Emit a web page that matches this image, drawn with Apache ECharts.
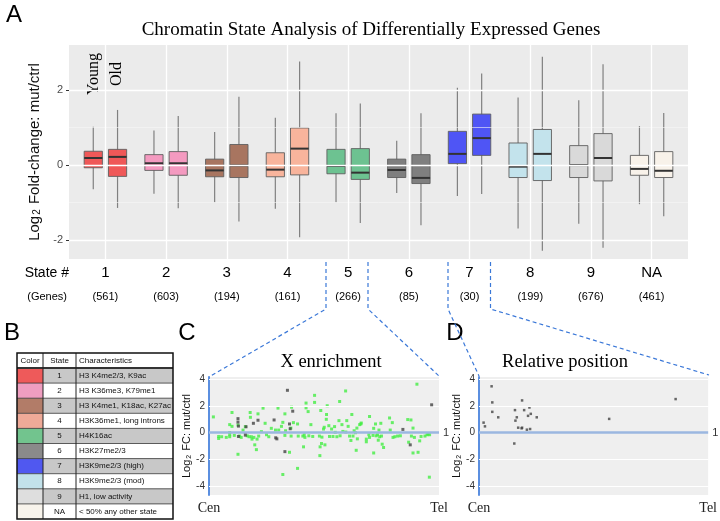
<!DOCTYPE html>
<html><head><meta charset="utf-8">
<script src="https://cdn.jsdelivr.net/npm/echarts@6/dist/echarts.min.js"></script>
<style>html,body{margin:0;padding:0;background:#fff}#c{width:720px;height:521px}</style>
</head><body><div id="c"></div>
<script>
// ---------- Panel A data ----------
const states = ['1','2','3','4','5','6','7','8','9','NA'];
const genes = [561,603,194,161,266,85,30,199,676,461];
// [min, q1, median, q3, max]
const youngBox = [
  [-0.64,-0.07, 0.19,0.37,1.02],
  [-0.76,-0.14, 0.05,0.28,0.92],
  [-0.99,-0.31,-0.14,0.16,0.88],
  [-1.16,-0.31,-0.12,0.33,1.26],
  [-0.99,-0.23,-0.02,0.42,1.38],
  [-0.74,-0.33,-0.13,0.16,0.65],
  [-0.82, 0.04, 0.30,0.90,2.06],
  [-1.69,-0.33,-0.04,0.59,1.80],
  [-1.56,-0.33, 0.00,0.52,1.73],
  [-1.04,-0.27,-0.10,0.26,1.04]
];
const oldBox = [
  [-1.14,-0.30, 0.22,0.42,1.47],
  [-1.15,-0.27, 0.05,0.36,1.31],
  [-1.50,-0.33,-0.01,0.55,1.82],
  [-1.92,-0.26, 0.44,0.99,2.76],
  [-1.54,-0.38,-0.20,0.44,1.64],
  [-1.60,-0.49,-0.34,0.28,1.38],
  [-0.77, 0.26, 0.72,1.36,2.44],
  [-2.28,-0.41, 0.30,0.95,2.89],
  [-2.20,-0.42, 0.19,0.84,2.69],
  [-1.36,-0.33,-0.15,0.36,1.39]
];
const yTicksA = [-2, 0, 2];
const yMinorA = [-1, 1];

// ---------- Panel B data ----------
const tableStates = ['1','2','3','4','5','6','7','8','9','NA'];
const characteristics = ['H3 K4me2/3, K9ac','H3 K36me3, K79me1','H3 K4me1, K18ac, K27ac','H3K36me1, long introns','H4K16ac','H3K27me2/3','H3K9me2/3 (high)','H3K9me2/3 (mod)','H1, low activity','< 50% any other state'];

// ---------- Panel C data (position % Cen->Tel, log2 FC) ----------
const cGreen = [
 [1.9,1.19],[4.2,-0.28],[4.2,-0.43],[5.5,-0.3],[7.5,-0.35],[9.0,0.61],[9.0,0.02],[9.0,-0.15],[9.0,-0.3],[10.0,0.48],[10.0,1.52],[11.0,-0.2],
 [12.6,0.58],[12.6,-1.62],[13.3,-0.25],[14.0,-0.35],[14.8,0.2],[15.8,0.46],[16.6,-0.23],[17.4,-0.3],[17.9,1.52],[18.0,1.16],[18.4,-0.3],
 [18.7,-0.48],[19.5,-0.35],[19.9,-0.91],[20.6,-1.27],[20.9,-0.48],[21.3,1.42],[21.6,-0.25],[22.8,0.08],[23.5,1.85],[24.4,0.71],[25.0,-0.15],
 [26.0,-0.3],[27.1,0.33],[28.9,0.2],[30.0,1.85],[30.3,0.2],[31.5,0.48],[32.1,0.78],[32.1,-3.14],[33.0,-0.2],
 [33.0,1.42],[35.9,1.92],[35.6,0.35],[36.7,0.76],[38.5,0.66],[35.0,-1.47],[38.5,-2.68],[41.1,-1.06],[42.2,2.23],[42.2,1.87],[43.1,1.59],
 [45.9,2.81],[45.9,2.28],[44.3,0.61],[48.6,1.67],[48.3,-1.06],[48.9,-0.81],[48.2,-1.72],[50.1,0.41],[50.4,-0.91],[51.0,1.01],[51.1,1.37],
 [51.4,2.03],[52.1,0.53],[54.6,0.46],[56.5,0.91],[56.8,2.35],[57.8,0.61],[59.4,3.14],[59.9,0.91],[60.5,0.48],[61.7,-0.58],[62.1,1.37],
 [64.0,-1.32],[64.3,0.35],[65.5,0.61],[66.2,0.73],
 [33.3,0.15],[35.7,-0.25],[38.8,-0.25],[40.8,-0.25],[41.4,-0.15],[43.4,-0.23],[45.1,-0.28],[49.1,-0.33],[49.8,0.28],[52.4,-0.28],[53.3,0.28],
 [53.9,-0.28],[54.9,0.03],[55.6,-0.3],[57.0,-0.23],[58.2,0.1],[59.5,0.05],[62.6,-0.25],[63.1,0.15],[63.7,0.0],[64.5,-0.46],[61.1,-0.25],
 [48.0,-0.25],[41.7,-0.35],
 [66.0,0.66],[69.8,1.22],[68.4,-0.48],[68.4,-0.68],[69.8,-0.35],[71.6,-1.52],[72.4,0.66],[71.6,0.33],[73.6,-0.56],[74.7,0.71],[75.3,-0.86],
 [75.9,-1.11],[78.5,1.11],[79.7,0.76],[86.4,0.99],[87.8,0.96],[88.7,0.35],[86.8,-0.71],[88.7,-1.52],[90.4,3.65],[90.9,-1.47],[91.6,-0.61],
 [95.8,-3.34],[69.5,-0.15],[71.3,-0.2],[72.7,-0.23],[73.3,-0.15],[73.9,0.2],[74.2,-0.3],[75.0,-0.25],[78.8,0.2],[80.0,-0.35],[80.8,-0.3],
 [82.0,-0.25],[83.2,-0.23],[89.3,-0.35],[92.2,-0.28],[93.9,-0.25],[94.8,-0.15],[95.3,-0.1],[95.9,-0.15],[88.0,-0.25]
];
const cDark = [
 [12.6,1.06],[12.6,0.8],[12.8,0.5],[12.8,-0.28],[15.8,-0.18],[16.1,0.45],[19.3,0.71],[21.3,0.94],[28.3,0.96],[29.5,-0.46],[29.0,-0.38],
 [33.0,-1.42],[34.1,3.19],[36.4,1.62],[35.0,0.66],[35.3,0.3],[84.3,0.25],[87.5,-0.91],[96.8,2.1]
];
// ---------- Panel D data ----------
const dPoints = [
 [5.5,3.49],[5.8,2.28],[5.8,1.57],[8.4,1.16],[2.0,0.76],[2.6,0.48],[18.8,2.43],[15.7,1.70],[22.0,1.90],[19.7,1.70],[22.6,1.42],
 [21.4,1.27],[25.2,1.16],[16.5,1.16],[15.9,0.91],[17.1,0.38],[18.6,0.33],[18.8,0.38],[20.9,0.23],[22.3,0.28],[15.4,-0.81],[56.8,1.04],[85.8,2.53]
];
const yTicksCD = [-4,-2,0,2,4];

// ---------- styles ----------
const boxColors = ['#ef5858','#f49ac0','#a87560','#f8b49c','#6dc291','#7f7f7f','#4f55f5','#c3e3ec','#d9d9d9','#f8f2ea'];
const tableColors = ['#ee5a5a','#ef9ec0','#b27c68','#efaa98','#72c48e','#8a8a8a','#5058f0','#c2e1ea','#dedede','#f8f4ec'];
const SANS = '"Liberation Sans", Arial, sans-serif';
const SERIF = '"Liberation Serif", "DejaVu Serif", serif';

const boxData = [];
states.forEach((s, i) => {
  boxData.push([i + 1 - 0.2].concat(youngBox[i], [i]));
  boxData.push([i + 1 + 0.2].concat(oldBox[i], [i]));
});

function renderBox(params, api) {
  const x = api.value(0);
  const lo = api.coord([x, api.value(1)]);
  const q1 = api.coord([x, api.value(2)]);
  const md = api.coord([x, api.value(3)]);
  const q3 = api.coord([x, api.value(4)]);
  const hi = api.coord([x, api.value(5)]);
  const w = api.size([0.3, 0])[0];
  const col = boxColors[api.value(6)];
  return { type: 'group', children: [
    { type: 'line', shape: { x1: lo[0], y1: lo[1], x2: hi[0], y2: hi[1] }, style: { stroke: '#808080', lineWidth: 1.2 } },
    { type: 'rect', shape: { x: q3[0] - w / 2, y: q3[1], width: w, height: q1[1] - q3[1] }, style: { fill: col, stroke: '#5f5f5f', lineWidth: 0.9 } },
    { type: 'line', shape: { x1: md[0] - w / 2, y1: md[1], x2: md[0] + w / 2, y2: md[1] }, style: { stroke: '#333', lineWidth: 2 } }
  ]};
}

// ---------- graphics (table, labels, connectors) ----------
const g = [];
function txt(x, y, text, font, opts) {
  g.push(Object.assign({ type: 'text', x: x, y: y, silent: true,
    style: Object.assign({ text: text, font: font, fill: '#000', align: 'center', verticalAlign: 'middle' }, (opts && opts.style) || {}) },
    (opts && opts.el) || {}));
}
txt(14, 15, 'A', '24px ' + SANS);
txt(12, 333, 'B', '24px ' + SANS);
txt(187, 333, 'C', '24px ' + SANS);
txt(455, 333, 'D', '24px ' + SANS);
txt(371, 30, 'Chromatin State Analysis of Differentially Expressed Genes', '19px ' + SERIF);
txt(94, 74, 'Young', '16px ' + SERIF, { el: { rotation: Math.PI / 2 } });
txt(117, 74, 'Old', '16px ' + SERIF, { el: { rotation: Math.PI / 2 } });
txt(69, 273, 'State #', '14px ' + SANS, { style: { align: 'right' } });
txt(67, 297, '(Genes)', '11px ' + SANS, { style: { align: 'right' } });
txt(331, 362, 'X enrichment', '18.5px ' + SERIF);
txt(565, 362, 'Relative position', '18.5px ' + SERIF);

// dashed connectors
const dashStyle = { stroke: '#3b78d8', lineWidth: 1.2, lineDash: [4, 3], fill: null };
[[[326,262],[326,309],[209,377]], [[368,262],[368,309],[439,376]], [[448,262],[448,309],[479,376]], [[490.5,262],[490.5,309],[709,375]]]
  .forEach(pts => g.push({ type: 'polyline', silent: true, shape: { points: pts }, style: dashStyle, z: 10 }));

// table B
const tx = [17, 43, 76, 173];
const ty0 = 353, hh = 15, rh = 15.1;
tableStates.forEach((s, i) => {
  const y = ty0 + hh + i * rh;
  g.push({ type: 'rect', silent: true, shape: { x: tx[0], y: y, width: tx[1] - tx[0], height: rh }, style: { fill: tableColors[i] } });
  g.push({ type: 'rect', silent: true, shape: { x: tx[1], y: y, width: tx[3] - tx[1], height: rh }, style: { fill: i % 2 === 0 ? '#c8c8c8' : '#ffffff' } });
  txt((tx[1] + tx[2]) / 2, y + rh / 2, s, '8px ' + SANS, { style: { fill: '#111' } });
  txt(tx[2] + 3, y + rh / 2, characteristics[i], '8px ' + SANS, { style: { align: 'left', fill: '#111' } });
  g.push({ type: 'line', silent: true, shape: { x1: tx[0], y1: y, x2: tx[3], y2: y }, style: { stroke: '#333', lineWidth: i === 0 ? 2 : 0.8 } });
});
txt((tx[0] + tx[1]) / 2, ty0 + hh / 2, 'Color', '8px ' + SANS, { style: { fill: '#111' } });
txt((tx[1] + tx[2]) / 2, ty0 + hh / 2, 'State', '8px ' + SANS, { style: { fill: '#111' } });
txt(tx[2] + 3, ty0 + hh / 2, 'Characteristics', '8px ' + SANS, { style: { align: 'left', fill: '#111' } });
const tBottom = ty0 + hh + tableStates.length * rh;
[tx[1], tx[2]].forEach(x => g.push({ type: 'line', silent: true, shape: { x1: x, y1: ty0, x2: x, y2: tBottom }, style: { stroke: '#222', lineWidth: 1 } }));
g.push({ type: 'rect', silent: true, shape: { x: tx[0], y: ty0, width: tx[3] - tx[0], height: tBottom - ty0 }, style: { fill: null, stroke: '#111', lineWidth: 1.5 } });

// ---------- option ----------
function hLines(vals, color, width) { return vals.map(v => ({ yAxis: v, lineStyle: { color: color, width: width, type: 'solid' } })); }
function vLines(vals, color, width) { return vals.map(v => ({ xAxis: v, lineStyle: { color: color, width: width, type: 'solid' } })); }

const catPos = states.map((s, i) => i + 1);
const nameRich = (fs, ss) => ({
  a: { fontSize: fs, fontFamily: SANS, color: '#111' },
  s: { fontSize: ss, fontFamily: SANS, color: '#111', verticalAlign: 'bottom', padding: [0, 1, 0, 1] }
});

const option = {
  animation: false,
  graphic: g,
  grid: [
    { left: 69, right: 32, top: 45, bottom: 262, show: true, backgroundColor: '#ebebeb', borderWidth: 0 },
    { left: 209, right: 281, top: 377, bottom: 26, show: true, backgroundColor: '#efefef', borderWidth: 0 },
    { left: 479, right: 11, top: 377, bottom: 26, show: true, backgroundColor: '#efefef', borderWidth: 0 }
  ],
  xAxis: [
    { type: 'value', gridIndex: 0, min: 0.4, max: 10.6, axisLine: { show: false }, axisTick: { show: false }, splitLine: { show: false },
      axisLabel: { customValues: catPos, margin: 6, formatter: v => { const i = Math.round(v) - 1; return '{n|' + states[i] + '}\n{g|(' + genes[i] + ')}'; },
        rich: { n: { fontSize: 15, lineHeight: 16, fontFamily: SANS, color: '#000' }, g: { fontSize: 11, lineHeight: 32, fontFamily: SANS, color: '#000' } } } },
    { type: 'value', gridIndex: 1, min: 0, max: 100, axisLine: { show: false }, axisTick: { show: false }, splitLine: { show: false },
      axisLabel: { customValues: [0, 100], margin: 6, formatter: v => v === 0 ? 'Cen' : 'Tel', fontFamily: SERIF, fontSize: 14, color: '#222' } },
    { type: 'value', gridIndex: 2, min: 0, max: 100, axisLine: { show: false }, axisTick: { show: false }, splitLine: { show: false },
      axisLabel: { customValues: [0, 100], margin: 6, formatter: v => v === 0 ? 'Cen' : 'Tel', fontFamily: SERIF, fontSize: 14, color: '#222' } }
  ],
  yAxis: [
    { type: 'value', gridIndex: 0, min: -2.5, max: 3.2, splitLine: { show: false }, axisLine: { show: false },
      axisTick: { show: true, customValues: yTicksA, length: 3, lineStyle: { color: '#333' } },
      axisLabel: { customValues: yTicksA, margin: 6, fontSize: 11, color: '#4d4d4d', fontFamily: SANS },
      name: '{a|Log}{s|2}{a| Fold-change: mut/ctrl}', nameLocation: 'middle', nameGap: 23, nameRotate: 90,
      nameTextStyle: { rich: nameRich(15, 10) } },
    { type: 'value', gridIndex: 1, min: -4.68, max: 4.19, splitLine: { show: false },
      axisLine: { show: true, lineStyle: { color: '#5b8fe0', width: 2 } }, axisTick: { show: false },
      axisLabel: { customValues: yTicksCD, margin: 4, fontSize: 10, color: '#333', fontFamily: SANS },
      name: '{a|Log}{s|2}{a| FC: mut/ctrl}', nameLocation: 'middle', nameGap: 13, nameRotate: 90,
      nameTextStyle: { rich: nameRich(11, 7) } },
    { type: 'value', gridIndex: 2, min: -4.68, max: 4.19, splitLine: { show: false },
      axisLine: { show: true, lineStyle: { color: '#5b8fe0', width: 2 } }, axisTick: { show: false },
      axisLabel: { customValues: yTicksCD, margin: 4, fontSize: 10, color: '#333', fontFamily: SANS },
      name: '{a|Log}{s|2}{a| FC: mut/ctrl}', nameLocation: 'middle', nameGap: 13, nameRotate: 90,
      nameTextStyle: { rich: nameRich(11, 7) } }
  ],
  series: [
    { type: 'line', xAxisIndex: 0, yAxisIndex: 0, data: [], silent: true, z: 1,
      markLine: { silent: true, symbol: 'none', label: { show: false }, animation: false,
        data: hLines(yTicksA, '#ffffff', 1.3).concat(hLines(yMinorA, '#f7f7f7', 0.6), vLines(catPos, '#ffffff', 1.3)) } },
    { type: 'custom', xAxisIndex: 0, yAxisIndex: 0, z: 3, renderItem: renderBox, data: boxData, encode: { x: 0, y: [1, 2, 3, 4, 5] } },
    { type: 'line', xAxisIndex: 1, yAxisIndex: 1, data: [], silent: true, z: 1,
      markLine: { silent: true, symbol: 'none', label: { show: false }, animation: false,
        data: hLines([-4, -2, 2, 4], '#ffffff', 1) } },
    { type: 'line', xAxisIndex: 1, yAxisIndex: 1, data: [], silent: true, z: 2,
      markLine: { silent: true, symbol: 'none', animation: false,
        label: { show: true, position: 'end', formatter: '1', fontSize: 11, color: '#333', fontFamily: SANS, distance: 4 },
        data: hLines([0], '#9bb7e0', 2.5) } },
    { type: 'scatter', xAxisIndex: 1, yAxisIndex: 1, z: 4, symbol: 'rect', symbolSize: 3, itemStyle: { color: '#44ee44' }, data: cGreen },
    { type: 'scatter', xAxisIndex: 1, yAxisIndex: 1, z: 5, symbol: 'rect', symbolSize: 3, itemStyle: { color: '#444' }, data: cDark },
    { type: 'line', xAxisIndex: 2, yAxisIndex: 2, data: [], silent: true, z: 1,
      markLine: { silent: true, symbol: 'none', label: { show: false }, animation: false,
        data: hLines([-4, -2, 2, 4], '#ffffff', 1) } },
    { type: 'line', xAxisIndex: 2, yAxisIndex: 2, data: [], silent: true, z: 2,
      markLine: { silent: true, symbol: 'none', animation: false,
        label: { show: true, position: 'end', formatter: '1', fontSize: 11, color: '#333', fontFamily: SANS, distance: 4 },
        data: hLines([0], '#9bb7e0', 2.5) } },
    { type: 'scatter', xAxisIndex: 2, yAxisIndex: 2, z: 4, symbol: 'rect', symbolSize: 2.5, itemStyle: { color: '#444' }, data: dPoints }
  ]
};
const chart = echarts.init(document.getElementById('c'));
chart.setOption(option);
</script>
</body></html>
